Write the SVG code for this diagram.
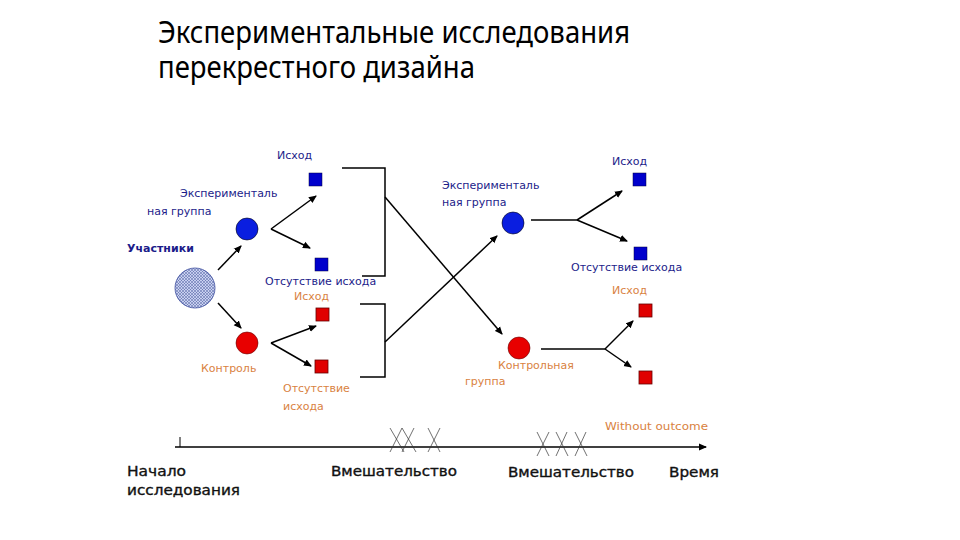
<svg xmlns="http://www.w3.org/2000/svg" width="960" height="540" viewBox="0 0 960 540">
<defs>
<style>
.title{font-family:"Noto Sans","DejaVu Sans",sans-serif;font-size:30px;fill:#000}
.lb{font-family:"DejaVu Sans",Verdana,sans-serif;font-size:11px;fill:#1c1c8a}
.lbb{font-family:"DejaVu Sans",Verdana,sans-serif;font-size:11px;font-weight:bold;fill:#1c1c8a}
.lo{font-family:"DejaVu Sans",Verdana,sans-serif;font-size:11px;fill:#d9823f}
.lt{font-family:"DejaVu Sans",Verdana,sans-serif;font-size:13.5px;fill:#111;stroke:#111;stroke-width:0.35}
.ln{stroke:#000;stroke-width:1.5;fill:none}
.ar{stroke:#000;stroke-width:1.5;fill:none;marker-end:url(#ah)}
.bsq{fill:#0000cc;stroke:#000040;stroke-width:0.5}
.rsq{fill:#e00000;stroke:#600;stroke-width:0.8}
.xm{stroke:#333;stroke-width:0.7;fill:none}
</style>
<marker id="ah" markerWidth="8" markerHeight="8" refX="7" refY="4" orient="auto" markerUnits="userSpaceOnUse">
<path d="M0,0.5 L8,4 L0,7.5 Z" fill="#000"/>
</marker>
<pattern id="hatch" width="3" height="3" patternUnits="userSpaceOnUse">
<rect width="3" height="3" fill="#c8d0f0"/>
<path d="M0,0 L3,3 M3,0 L0,3" stroke="#5060a0" stroke-width="0.5"/>
</pattern>
</defs>
<rect width="960" height="540" fill="#fff"/>

<g id="title">
<text class="title" x="158" y="43" textLength="472" lengthAdjust="spacingAndGlyphs">Экспериментальные исследования</text>
<text class="title" x="158" y="78" textLength="317" lengthAdjust="spacingAndGlyphs">перекрестного дизайна</text>
</g>

<g id="connectors">
<line class="ar" x1="218" y1="270" x2="241" y2="246"/>
<line class="ar" x1="218" y1="303" x2="241" y2="328"/>
<line class="ar" x1="271" y1="229" x2="316" y2="196"/>
<line class="ar" x1="271" y1="229" x2="310" y2="248"/>
<line class="ar" x1="271" y1="343" x2="316" y2="326"/>
<line class="ar" x1="271" y1="343" x2="311" y2="366"/>
<polyline class="ln" points="342,168 385,168 385,276 362,276"/>
<polyline class="ln" points="360,304 385,304 385,377 360,377"/>
<line class="ar" x1="385" y1="197" x2="502" y2="334"/>
<line class="ar" x1="385" y1="342" x2="497" y2="236"/>
<line class="ln" x1="531" y1="220" x2="577" y2="220"/>
<line class="ar" x1="577" y1="220" x2="622" y2="191"/>
<line class="ar" x1="577" y1="220" x2="627" y2="241"/>
<line class="ln" x1="541" y1="349" x2="605" y2="349"/>
<line class="ar" x1="605" y1="349" x2="633" y2="321"/>
<line class="ar" x1="605" y1="349" x2="631" y2="367"/>
<line class="ar" x1="175" y1="447" x2="706" y2="447"/>
<line class="ln" x1="180" y1="437" x2="180" y2="447" style="stroke-width:1"/>
</g>

<g id="participants">
<circle cx="195" cy="288" r="20" fill="url(#hatch)" stroke="#4050a0" stroke-width="0.8"/>
<text class="lbb" x="127" y="252">Участники</text>
</g>

<g id="exp-left">
<circle cx="247" cy="229" r="11" fill="#0a1ee0" stroke="#001" stroke-width="0.6"/>
<text class="lb" x="180" y="197">Эксперименталь</text>
<text class="lb" x="147" y="215">ная группа</text>
</g>

<g id="out-left-1">
<rect class="bsq" x="309" y="173" width="13" height="13"/>
<text class="lb" x="277" y="159">Исход</text>
</g>

<g id="noout-left-1">
<rect class="bsq" x="315" y="258" width="13" height="13"/>
<text class="lb" x="265" y="285">Отсутствие исхода</text>
</g>

<g id="ctrl-left">
<circle cx="247" cy="343" r="11" fill="#e80000" stroke="#600" stroke-width="0.6"/>
<text class="lo" x="201" y="372">Контроль</text>
</g>

<g id="out-left-2">
<rect class="rsq" x="316" y="308" width="13" height="13"/>
<text class="lo" x="294" y="300">Исход</text>
</g>

<g id="noout-left-2">
<rect class="rsq" x="315" y="360" width="13" height="13"/>
<text class="lo" x="283" y="392">Отсутствие</text>
<text class="lo" x="283" y="410">исхода</text>
</g>

<g id="exp-right">
<circle cx="513" cy="223" r="11" fill="#0a1ee0" stroke="#001" stroke-width="0.6"/>
<text class="lb" x="442" y="189">Эксперименталь</text>
<text class="lb" x="442" y="206">ная группа</text>
</g>

<g id="out-right-1">
<rect class="bsq" x="633" y="173" width="13" height="13"/>
<text class="lb" x="612" y="165">Исход</text>
</g>

<g id="noout-right-1">
<rect class="bsq" x="634" y="247" width="13" height="13"/>
<text class="lb" x="571" y="271">Отсутствие исхода</text>
</g>

<g id="ctrl-right">
<circle cx="519" cy="348" r="11" fill="#e80000" stroke="#600" stroke-width="0.6"/>
<text class="lo" x="498" y="369">Контрольная</text>
<text class="lo" x="465" y="385">группа</text>
</g>

<g id="out-right-2">
<rect class="rsq" x="639" y="304" width="13" height="13"/>
<text class="lo" x="612" y="294">Исход</text>
</g>

<g id="noout-right-2">
<rect class="rsq" x="639" y="371" width="13" height="13"/>
<text class="lo" x="605" y="430" textLength="103" lengthAdjust="spacingAndGlyphs">Without outcome</text>
</g>

<g id="timeline">
<path class="xm" d="M390,428 L404,452 M402,428 L390,452 M402,428 L416,452 M414,428 L402,452 M428,428 L440,452 M440,428 L428,452"/>
<path class="xm" d="M537,432 L549,456 M549,432 L537,456 M556,432 L568,456 M567,432 L556,456 M575,432 L587,456 M586,432 L575,456"/>
<text class="lt" x="127" y="476" textLength="59" lengthAdjust="spacingAndGlyphs">Начало</text>
<text class="lt" x="127" y="495" textLength="113" lengthAdjust="spacingAndGlyphs">исследования</text>
<text class="lt" x="331" y="476" textLength="126" lengthAdjust="spacingAndGlyphs">Вмешательство</text>
<text class="lt" x="508" y="477" textLength="126" lengthAdjust="spacingAndGlyphs">Вмешательство</text>
<text class="lt" x="669" y="477" textLength="50" lengthAdjust="spacingAndGlyphs">Время</text>
</g>
</svg>
